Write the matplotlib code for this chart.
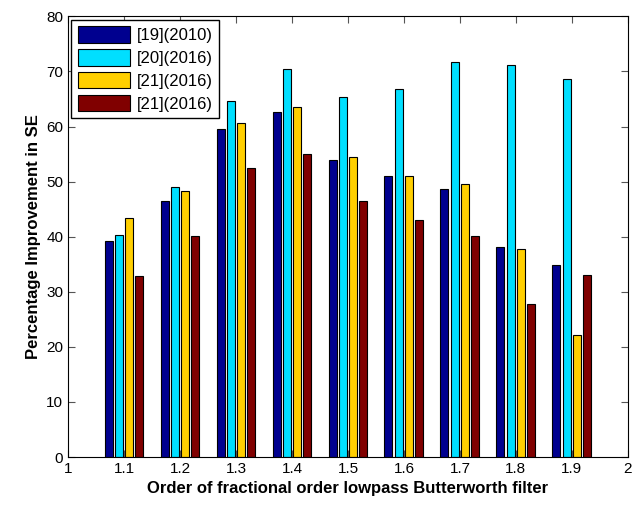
import numpy as np
import matplotlib
matplotlib.use("Agg")
import matplotlib.pyplot as plt

plt.rcParams['font.family'] = ['Liberation Sans', 'DejaVu Sans']

orders = [1.1, 1.2, 1.3, 1.4, 1.5, 1.6, 1.7, 1.8, 1.9]
ref19_2010 = [39.2, 46.4, 59.6, 62.6, 54.0, 51.1, 48.6, 38.1, 34.8]
ref20_2016 = [40.3, 49.0, 64.7, 70.5, 65.4, 66.8, 71.7, 71.2, 68.6]
ref21_2016a = [43.4, 48.3, 60.7, 63.5, 54.4, 51.1, 49.5, 37.8, 22.1]
ref21_2016b = [32.9, 40.2, 52.5, 55.1, 46.5, 43.0, 40.2, 27.7, 33.1]

labels = ['[19](2010)', '[20](2016)', '[21](2016)', '[21](2016)']
colors = ['#00008F', '#00DFFF', '#FFCF00', '#800000']
series = [ref19_2010, ref20_2016, ref21_2016a, ref21_2016b]

fig = plt.figure(figsize=(6.42, 5.07), dpi=100)
ax = fig.add_axes([0.106, 0.0986, 0.872, 0.869])

x = np.array(orders)
slot = 0.0184
width = 0.0143
for i, (vals, col, lab) in enumerate(zip(series, colors, labels)):
    off = (i - 1.5) * slot
    ax.bar(x + off, vals, width, color=col, edgecolor='black', linewidth=0.8, label=lab)

ax.set_xlim(1, 2)
ax.set_ylim(0, 80)
ax.set_xticks(np.arange(1, 2.01, 0.1))
ax.set_xticklabels(['1', '1.1', '1.2', '1.3', '1.4', '1.5', '1.6', '1.7', '1.8', '1.9', '2'])
ax.set_yticks(range(0, 81, 10))
ax.tick_params(direction='in', top=True, right=True, labelsize=11, length=5, color='#555555')
ax.set_xlabel('Order of fractional order lowpass Butterworth filter', fontsize=12, fontweight='bold')
ax.set_ylabel('Percentage Improvement in SE', fontsize=12, fontweight='bold')

leg = ax.legend(loc='upper left', fontsize=12, fancybox=False, edgecolor='black',
                handlelength=3.1, handleheight=1.15, handletextpad=0.4,
                borderaxespad=0.2, borderpad=0.4, labelspacing=0.35)
leg.get_frame().set_linewidth(1.0)
leg.get_frame().set_alpha(1)

fig.savefig('out.png', dpi=100)
